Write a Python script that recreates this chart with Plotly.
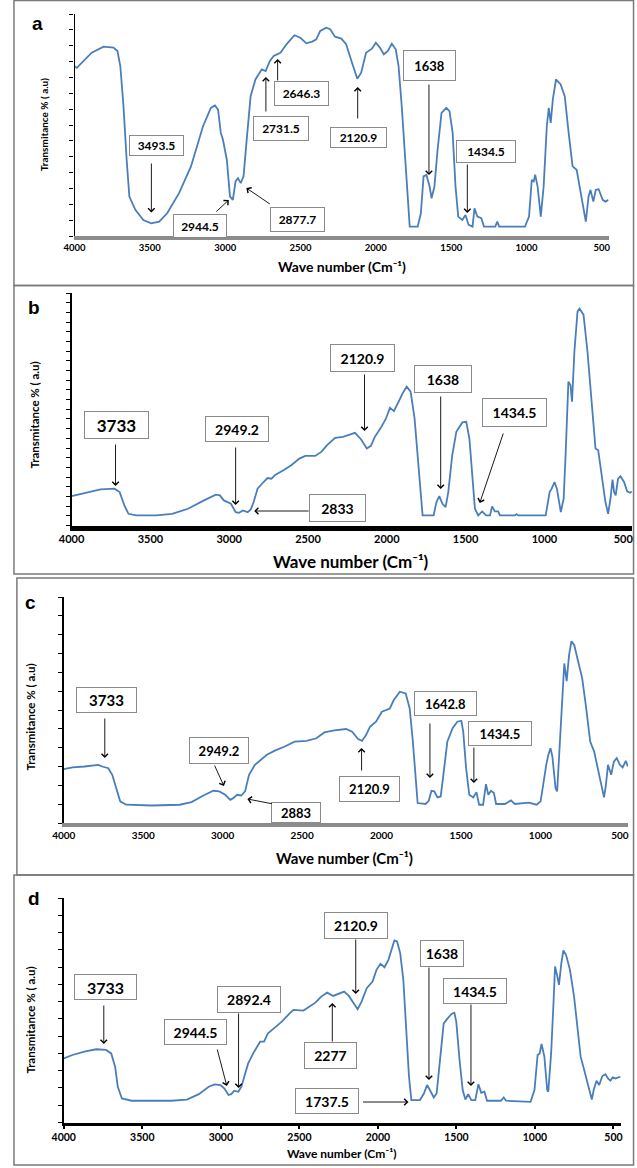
import plotly.graph_objects as go

W, H = 637, 1168
BLUE = "#4a7ebb"

x_ticks = [4000, 3500, 3000, 2500, 2000, 1500, 1000, 500]

# (a) spectrum
wn_a = [4000, 3985, 3886, 3807, 3741, 3715, 3696, 3675, 3654, 3636, 3596, 3543, 3491, 3438, 3385, 3306,
        3227, 3147, 3095, 3068, 3047, 3029, 3015, 2989, 2968, 2949, 2931, 2915, 2897, 2878, 2857, 2831,
        2799, 2757, 2731, 2704, 2678, 2651, 2633, 2593, 2540, 2501, 2461, 2422, 2395, 2369, 2329, 2303,
        2271, 2229, 2197, 2158, 2123, 2097, 2065, 2026, 2000, 1973, 1947, 1920, 1894, 1868, 1849, 1828,
        1801, 1775, 1722, 1701, 1683, 1664, 1643, 1630, 1611, 1590, 1564, 1532, 1511, 1490, 1471, 1453,
        1426, 1405, 1384, 1358, 1345, 1326, 1300, 1282, 1207, 1194, 1181, 1010, 983, 965, 952, 942, 926,
        905, 886, 865, 852, 839, 825, 804, 773, 746, 720, 694, 667, 640, 619, 606, 588, 575, 556, 540,
        521, 494, 476, 456]
tr_a = [10.7, 10.6, 11.56, 11.94, 11.88, 11.67, 10.72, 8.19, 4.81, 2.49, 1.65, 1.01, 0.8, 0.91, 1.43, 2.7,
        4.39, 6.92, 8.08, 8.23, 7.97, 6.5, 6.08, 4.81, 2.49, 2.28, 3.44, 3.65, 3.33, 3.76, 6.08, 8.82,
        9.87, 10.51, 10.4, 11.03, 11.35, 11.46, 11.56, 12.09, 12.66, 12.5, 12.15, 12.26, 12.4, 12.93, 13.14, 13.04,
        12.57, 12.45, 12.09, 10.93, 9.92, 10.3, 11.56, 11.81, 12.19, 11.88, 11.46, 11.67, 12.13, 11.77, 10.72, 8.19,
        4.39, 0.59, 0.59, 1.43, 3.76, 3.86, 3.12, 2.38, 3.12, 5.44, 7.76, 8.08, 7.87, 6.5, 3.12, 1.22,
        1.01, 1.33, 0.7, 0.59, 1.75, 1.22, 1.12, 0.59, 0.59, 0.91, 0.59, 0.59, 1.22, 3.54, 3.44, 3.86, 3.12,
        1.22, 3.12, 6.92, 8.08, 7.13, 8.61, 9.87, 9.56, 8.82, 6.5, 4.39, 4.18, 2.7, 1.43, 0.91, 2.49, 2.91, 2.17, 2.91,
        2.95, 2.28, 2.17, 2.28]

# (b) spectrum
wn_b = [4000, 3917, 3816, 3728, 3695, 3665, 3639, 3589, 3463, 3362, 3261, 3160, 3085, 3059, 3034, 2989,
        2959, 2938, 2913, 2883, 2863, 2845, 2820, 2782, 2757, 2732, 2706, 2656, 2606, 2555, 2517, 2454,
        2416, 2379, 2328, 2278, 2240, 2202, 2164, 2127, 2101, 2076, 2038, 2005, 1980, 1955, 1925, 1900,
        1874, 1849, 1824, 1799, 1773, 1703, 1685, 1667, 1647, 1627, 1610, 1585, 1559, 1521, 1496, 1476,
        1458, 1441, 1420, 1395, 1370, 1345, 1332, 1315, 1294, 1282, 1188, 1178, 1168, 992, 967, 954, 936,
        921, 896, 878, 865, 848, 835, 825, 810, 790, 777, 752, 727, 702, 676, 659, 639, 613, 596, 581,
        568, 558, 548, 533, 518, 495, 475, 457, 446]
tr_b = [3.04, 3.38, 3.73, 3.8, 3.45, 2.07, 1.21, 1.04, 1.04, 1.21, 1.73, 2.59, 3.18, 3.11, 2.59, 2.24,
        1.38, 1.31, 1.55, 1.38, 1.66, 2.42, 3.8, 4.49, 4.9, 4.83, 5.25, 5.7, 6.22, 6.91, 7.18, 7.18,
        7.6, 8.29, 9.05, 9.15, 9.39, 9.56, 8.91, 7.94, 8.22, 9.15, 10.08, 11.05, 12.15, 11.81, 12.78, 13.64,
        14.33, 13.81, 11.05, 5.87, 1.04, 1.04, 2.42, 3.04, 2.24, 1.9, 3.45, 7.25, 9.67, 10.64, 10.7, 8.98,
        4.83, 1.73, 1.04, 1.45, 1.04, 1.04, 1.97, 1.45, 1.45, 1.04, 1.04, 1.17, 1.04, 1.04, 3.45, 3.8, 4.49,
        3.8, 1.38, 2.76, 7.6, 14.85, 14.5, 12.78, 17.96, 22.1, 22.38, 21.75, 17.96, 12.78, 7.94, 7.77, 5.18, 2.42, 1.21, 2.76,
        4.73, 3.45, 3.11, 4.83, 5.08, 4.49, 3.52, 3.38, 3.52]

# (c) spectrum
wn_c = [4000, 3945, 3870, 3783, 3758, 3720, 3695, 3670, 3645, 3608, 3446, 3271, 3196, 3121, 3059, 3021,
        2984, 2952, 2934, 2909, 2884, 2859, 2834, 2797, 2759, 2722, 2672, 2609, 2547, 2472, 2410, 2360,
        2297, 2223, 2185, 2148, 2123, 2098, 2073, 2035, 1998, 1973, 1948, 1923, 1885, 1848, 1823, 1803,
        1786, 1773, 1723, 1703, 1686, 1668, 1648, 1628, 1611, 1586, 1553, 1523, 1498, 1486, 1468, 1448,
        1423, 1403, 1386, 1361, 1343, 1328, 1311, 1293, 1279, 1224, 1186, 1161, 1074, 1024, 999, 974, 962,
        950, 937, 925, 905, 895, 880, 862, 850, 835, 820, 805, 787, 762, 737, 712, 687, 662, 645, 625,
        600, 588, 575, 555, 538, 520, 500, 483, 463, 450]
tr_c = [2.86, 2.95, 3.0, 3.09, 3.0, 2.91, 2.56, 1.85, 1.15, 0.97, 0.93, 0.97, 1.11, 1.46, 1.71, 1.68,
        1.5, 1.23, 1.32, 1.5, 1.46, 1.68, 2.56, 3.09, 3.35, 3.62, 3.84, 4.06, 4.32, 4.36, 4.5, 4.81,
        4.92, 4.99, 4.85, 4.46, 4.36, 4.67, 5.11, 5.38, 5.91, 6.0, 6.08, 6.53, 6.97, 6.88, 6.08, 4.32,
        2.2, 1.06, 1.01, 1.18, 1.71, 1.68, 1.36, 1.41, 2.56, 4.32, 5.03, 5.38, 5.43, 4.85, 2.91, 1.5,
        1.36, 1.64, 0.97, 0.97, 2.06, 1.5, 1.71, 1.59, 1.01, 1.01, 1.2, 1.01, 1.08, 0.97, 1.15, 2.56, 3.17,
        3.62, 3.97, 3.53, 1.85, 1.68, 3.97, 7.32, 8.47, 7.53, 8.91, 9.65, 9.44, 8.55, 7.67, 6.08, 4.32, 3.79, 3.09, 2.2,
        1.36, 2.03, 3.09, 2.56, 3.26, 3.44, 3.09, 2.95, 3.3, 3.0]

# (d) spectrum
wn_d = [4000, 3945, 3869, 3794, 3731, 3698, 3673, 3656, 3630, 3568, 3316, 3216, 3140, 3077, 3040, 3002,
        2977, 2951, 2934, 2914, 2889, 2869, 2851, 2826, 2788, 2750, 2725, 2700, 2662, 2612, 2562, 2537,
        2474, 2436, 2398, 2361, 2323, 2285, 2247, 2215, 2185, 2154, 2129, 2104, 2071, 2034, 2009, 1983,
        1958, 1933, 1913, 1895, 1878, 1858, 1838, 1820, 1802, 1787, 1732, 1707, 1687, 1669, 1644, 1626,
        1606, 1581, 1556, 1531, 1513, 1501, 1480, 1460, 1443, 1425, 1405, 1380, 1360, 1342, 1322, 1305,
        1217, 1199, 1184, 1028, 1003, 983, 970, 958, 940, 922, 915, 897, 882, 872, 857, 847, 832, 819,
        802, 777, 751, 726, 709, 689, 663, 638, 626, 608, 591, 571, 551, 535, 520, 505, 488, 456]
tr_d = [3.71, 3.91, 4.1, 4.24, 4.2, 4.0, 3.23, 2.07, 1.39, 1.26, 1.26, 1.33, 1.64, 2.07, 2.21, 2.17,
        1.97, 1.59, 1.64, 1.84, 1.78, 2.07, 2.65, 3.42, 4.1, 4.68, 4.68, 5.16, 5.45, 5.84, 6.32, 6.52,
        6.48, 6.71, 6.94, 7.29, 7.52, 7.33, 7.49, 7.58, 7.33, 6.91, 6.56, 7.0, 7.78, 8.16, 8.84, 9.19,
        8.99, 9.42, 10.0, 10.54, 10.48, 9.81, 8.26, 5.55, 2.65, 1.3, 1.3, 1.68, 2.17, 1.88, 1.45, 1.68,
        3.42, 5.74, 6.03, 6.29, 6.36, 5.84, 3.62, 1.88, 1.33, 1.64, 1.3, 1.3, 2.22, 1.72, 1.78, 1.26,
        1.26, 1.45, 1.26, 1.2, 1.88, 3.91, 4.0, 4.55, 3.81, 1.88, 1.78, 4.0, 6.91, 9.03, 8.45, 7.97, 9.23, 9.96,
        9.71, 8.84, 7.29, 5.36, 3.81, 3.13, 2.26, 1.33, 1.88, 2.42, 2.17, 2.69, 2.8, 2.55, 2.42, 2.61, 2.55, 2.65]

# peak labels of each panel
peaks_a = ["3493.5", "2944.5", "2877.7", "2731.5", "2646.3", "2120.9", "1638", "1434.5"]
peaks_b = ["3733", "2949.2", "2833", "2120.9", "1638", "1434.5"]
peaks_c = ["3733", "2949.2", "2883", "2120.9", "1642.8", "1434.5"]
peaks_d = ["3733", "2944.5", "2892.4", "2277", "2120.9", "1638", "1434.5", "1737.5"]

# label boxes in page pixels: centre x, centre y, width, height, font size
boxes_a = [(147, 145.5, 53, 19, 12), (191, 226, 52, 22, 12), (291.5, 219, 53, 23, 12), (274, 128.5, 54, 23, 12),
           (295.5, 93.5, 53, 23, 12), (353.5, 137.5, 55, 19, 12), (426.5, 65.5, 51, 29, 13), (484, 151.5, 58, 21, 12)]
boxes_b = [(105.5, 425, 63, 26, 17), (229, 429, 62, 24, 14), (332.5, 508, 55, 26, 14), (357.5, 358, 63, 26, 14),
           (440, 379, 56, 26, 14), (513.5, 412.5, 63, 27, 14)]
boxes_c = [(95.5, 700, 59, 24, 15), (211, 750.5, 58, 25, 13), (290, 812.5, 48, 19, 13), (365.5, 789, 59, 24, 13),
           (442.5, 703.5, 61, 23, 13), (499, 733.5, 62, 23, 13)]
boxes_d = [(94.5, 987, 61, 24, 16), (186.5, 1032, 61, 24, 14), (242, 999.5, 62, 25, 14), (325.5, 1055.5, 51, 25, 14),
           (351, 925.5, 62, 25, 14), (439, 953.5, 42, 25, 14), (473, 991, 62, 24, 14), (322, 1101, 62, 24, 14)]

# arrows in page pixels: tail x, tail y, head x, head y
arrows_a = [(141.7, 162, 141.7, 212.5), (207, 213, 221, 200), (264, 205, 239, 188), (259, 113, 259, 77),
            (271, 82, 271, 59), (353, 120, 353, 87), (426, 83, 426, 175), (465.3, 163, 465.3, 213)]
arrows_b = [(105, 443, 105, 486), (228, 446, 228, 505), (303, 511, 247, 511), (360, 373, 360, 431),
            (438, 395, 438, 489), (502, 432, 478, 503)]
arrows_c = [(94, 717, 94, 758), (206, 764, 216, 786), (266, 804, 240, 799), (357, 772, 357, 748),
            (427, 722, 427, 778), (472, 746, 472, 783)]
arrows_d = [(93, 1004, 93, 1044), (209, 1048, 219, 1086), (231, 1012, 231, 1088), (327, 1043, 327, 1003),
            (351, 938, 351, 994), (426, 966, 426, 1080), (469, 1003, 469, 1086), (358, 1102, 405, 1102)]


def px(x):
    return x / W


def py(y):
    return 1 - y / H


panels = [
    dict(name="a", wn=wn_a, tr=tr_a, peaks=peaks_a, boxes=boxes_a, arrows=arrows_a,
         area=(63, 610, 14, 236), xmin=454.6, ymax=14, xline=("#8c8c8c", 4), yline=1.2, xtick=0,
         tickfont=9.5, letter=(25, 24), xtitle=(337, 267, 14), ytitle=(32, 125, 10),
         border=(1, 0.5, 635.5, 285.5)),
    dict(name="b", wn=wn_b, tr=tr_b, peaks=peaks_b, boxes=boxes_b, arrows=arrows_b,
         area=(60, 634, 293, 525.5), xmin=444, ymax=24, xline=("black", 4.5), yline=2, xtick=0,
         tickfont=11, letter=(22, 307), xtitle=(346, 561, 17), ytitle=(21, 415, 11.5),
         border=(1, 285.5, 635.5, 574)),
    dict(name="c", wn=wn_c, tr=tr_c, peaks=peaks_c, boxes=boxes_c, arrows=arrows_c,
         area=(52, 630, 597, 823), xmin=448, ymax=12, xline=("#8c8c8c", 4), yline=1.5, xtick=0,
         tickfont=10, letter=(18, 602), xtitle=(340, 858, 15), ytitle=(17, 717, 11.5),
         border=(4, 578, 635.5, 875)),
    dict(name="d", wn=wn_d, tr=tr_d, peaks=peaks_d, boxes=boxes_d, arrows=arrows_d,
         area=(52, 623, 898, 1122.5), xmin=450, ymax=13, xline=("black", 3), yline=2, xtick=3,
         tickfont=10.5, letter=(21, 898), xtitle=(337, 1153, 12), ytitle=(17, 1020, 11.5),
         border=(1, 875, 635.5, 1165)),
]

fig = go.Figure()
annotations = []
shapes = []
layout = {}

for i, p in enumerate(panels, start=1):
    sfx = "" if i == 1 else str(i)
    left, right, top, bottom = p["area"]

    fig.add_trace(go.Scatter(x=p["wn"], y=p["tr"], mode="lines", xaxis="x" + sfx, yaxis="y" + sfx,
                             line=dict(color=BLUE, width=1.8), showlegend=False, hoverinfo="skip"))

    layout["xaxis" + sfx] = dict(
        domain=[px(left), px(right)], anchor="y" + sfx, range=[4000, p["xmin"]],
        tickvals=x_ticks, ticktext=["<b>%d</b>" % v for v in x_ticks],
        tickfont=dict(family="Lato", size=p["tickfont"], color="black"),
        showline=True, linecolor=p["xline"][0], linewidth=p["xline"][1],
        ticks="outside" if p["xtick"] else "", ticklen=p["xtick"], tickcolor="black", tickwidth=1.5,
        showgrid=False, zeroline=False, fixedrange=True)
    layout["yaxis" + sfx] = dict(
        domain=[py(bottom), py(top)], anchor="x" + sfx, range=[0, p["ymax"]],
        tickvals=list(range(p["ymax"] + 1)), showticklabels=False,
        ticks="outside", ticklen=4, tickcolor="black", tickwidth=1.2,
        showline=True, linecolor="black", linewidth=p["yline"],
        showgrid=False, zeroline=False, fixedrange=True)

    x0, y0, x1, y1 = p["border"]
    shapes.append(dict(type="rect", xref="paper", yref="paper", x0=px(x0), x1=px(x1), y0=py(y0), y1=py(y1),
                       line=dict(color="#7a7a7a", width=1.5), layer="below"))

    # panel letter
    annotations.append(dict(text="<b>%s</b>" % p["name"], xref="paper", yref="paper",
                            x=px(p["letter"][0]), y=py(p["letter"][1]), xanchor="center", yanchor="middle",
                            showarrow=False, font=dict(family="Liberation Sans", size=19, color="black")))
    # axis titles
    tx, ty, ts = p["xtitle"]
    annotations.append(dict(text="<b>Wave number (Cm\u207b\u00b9)</b>", xref="paper", yref="paper",
                            x=px(tx), y=py(ty), xanchor="center", yanchor="middle", showarrow=False,
                            font=dict(family="Lato", size=ts, color="black")))
    yx, yy, ys = p["ytitle"]
    annotations.append(dict(text="<b>Transmitance % ( a.u)</b>",
                            xref="paper", yref="paper", x=px(yx), y=py(yy), xanchor="center", yanchor="middle",
                            textangle=-90, showarrow=False, font=dict(family="Lato", size=ys, color="black")))

    for lab, (cx, cy, w, h, fs) in zip(p["peaks"], p["boxes"]):
        annotations.append(dict(text="<b>%s</b>" % lab, xref="paper", yref="paper", x=px(cx), y=py(cy),
                                xanchor="center", yanchor="middle", showarrow=False, width=w, height=h,
                                bgcolor="white", bordercolor="#8a8a8a", borderwidth=1, borderpad=0,
                                font=dict(family="Lato", size=fs, color="black")))
    for (ax0, ay0, hx, hy) in p["arrows"]:
        annotations.append(dict(text="", xref="paper", yref="paper", x=px(hx), y=py(hy),
                                ax=ax0 - hx, ay=ay0 - hy, axref="pixel", ayref="pixel", showarrow=True,
                                arrowhead=4, arrowsize=1.4, arrowwidth=0.9, arrowcolor="black"))

fig.update_layout(width=W, height=H, margin=dict(l=0, r=0, t=0, b=0),
                  paper_bgcolor="white", plot_bgcolor="white",
                  annotations=annotations, shapes=shapes, **layout)

# the page's default body margin would push the figure off the window
fig.write_html("out.html", config={"displayModeBar": False},
               post_script="document.body.style.margin = '0';")
